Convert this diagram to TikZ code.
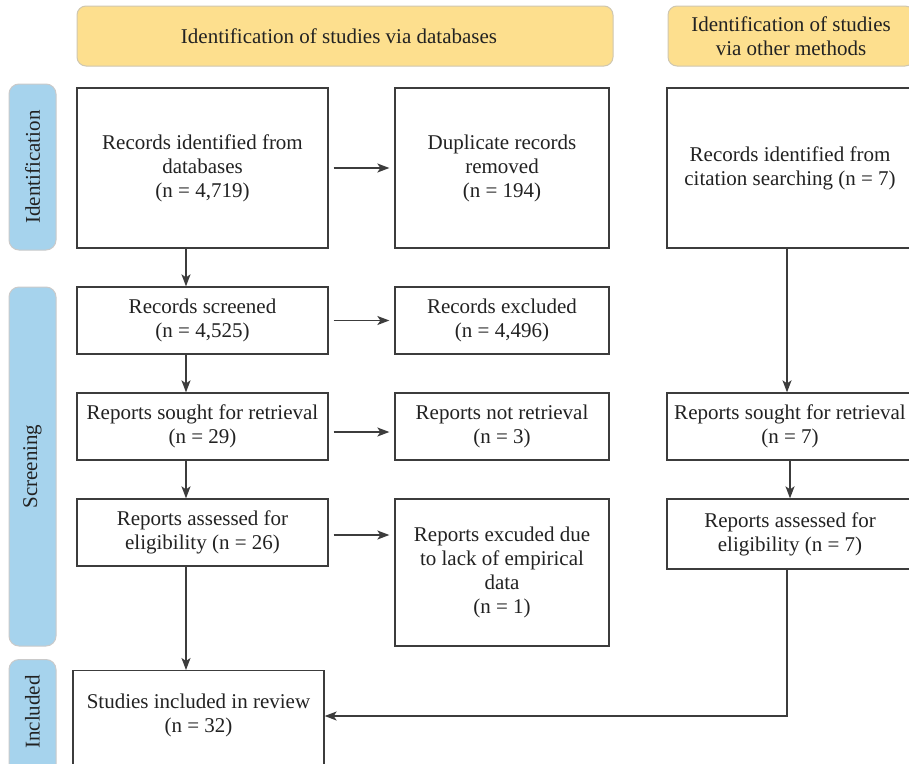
\documentclass[tikz,border=0pt]{standalone}
\usepackage{fontspec}
\setmainfont{Liberation Serif}
\usetikzlibrary{arrows.meta}
\definecolor{hdr}{HTML}{FDDF8E}
\definecolor{hdrb}{HTML}{CFC7B0}
\definecolor{side}{HTML}{A6D3ED}
\definecolor{sideb}{HTML}{CACACA}
\definecolor{boxb}{HTML}{3C3C3C}
\definecolor{txt}{HTML}{222222}
\begin{document}
\begin{tikzpicture}[x=1pt,y=-1pt,
  font=\fontsize{21}{24}\selectfont,
  box/.style={draw=boxb, line width=1.3pt, fill=white, align=center, inner sep=3pt, text=txt},
  hdrbox/.style={draw=hdrb, fill=hdr, rounded corners=9pt, line width=1pt, align=center, text=txt},
  sidebar/.style={draw=sideb, fill=side, rounded corners=10pt, line width=1pt, minimum width=47pt},
  sidelabel/.style={rotate=90, text=txt},
  arr/.style={-{Stealth[length=12pt,width=9pt,inset=3pt]}, line width=1.3pt, draw=boxb},
  harr/.style={arr, shorten <=5pt, shorten >=5pt}]
\useasboundingbox (0,0) rectangle (909,763);
\clip (0,0) rectangle (909,763);
\fill[white] (0,0) rectangle (909,763);

% headers
\node[hdrbox, minimum width=536pt, minimum height=60pt] (H1) at (345,36) {\hspace*{-12pt}Identification of studies via databases};
\node[hdrbox, minimum width=246pt, minimum height=60pt] (H2) at (791,36) {Identification of studies\\via other methods};

% side bars
\node[sidebar, minimum height=166pt] (S1) at (32.5,167) {};
\node[sidelabel] (S1t) at (S1) {Identification};
\node[sidebar, minimum height=359pt] (S2) at (32.5,466.5) {};
\node[sidelabel] (S2t) at (S2) {Screening};
\node[sidebar, minimum height=130pt, anchor=north] (S3) at (32.5,659) {};
\node[sidelabel] (S3t) at (32.5,712) {Included};

% boxes
\node[box, minimum width=251pt, minimum height=160pt] (A) at (202.5,168) {Records identified from\\databases\\(n = 4,719)};
\node[box, minimum width=214pt, minimum height=160pt] (B) at (502,168) {Duplicate records\\removed\\(n = 194)};
\node[box, minimum width=246pt, minimum height=160pt] (C) at (790,168) {Records identified from\\citation searching (n = 7)};

\node[box, minimum width=251pt, minimum height=67pt] (D) at (202.5,320.5) {Records screened\\(n = 4,525)};
\node[box, minimum width=214pt, minimum height=67pt] (E) at (502,320.5) {Records excluded\\(n = 4,496)};

\node[box, minimum width=251pt, minimum height=67pt] (F) at (202.5,426.5) {Reports sought for retrieval\\(n = 29)};
\node[box, minimum width=214pt, minimum height=67pt] (G) at (502,426.5) {Reports not retrieval\\(n = 3)};
\node[box, minimum width=246pt, minimum height=67pt] (H) at (790,426.5) {Reports sought for retrieval\\(n = 7)};

\node[box, minimum width=251pt, minimum height=67pt] (I) at (202.5,532.5) {Reports assessed for\\eligibility (n = 26)};
\node[box, minimum width=214pt, minimum height=147pt] (J) at (502,572.5) {Reports excuded due\\to lack of empirical\\data\\(n = 1)};
\node[box, minimum width=246pt, minimum height=70pt] (K) at (790,534) {Reports assessed for\\eligibility (n = 7)};

\node[box, minimum width=251pt, minimum height=120pt, anchor=north] (Lbox) at (198.5,670) {};
\node[align=center, text=txt] (L) at (198.5,715) {Studies included in review\\(n = 32)};

% arrow column
\coordinate (col) at (186,0);
\coordinate (rcol) at (787,0);

% horizontal arrows
\draw[harr] (A.east) -- (B.west);
\draw[harr] (D.east) -- (E.west);
\draw[harr] (F.east |- 0,432) -- (G.west |- 0,432);
\draw[harr] (I.east |- 0,535) -- (J.west |- 0,535);

% vertical arrows left
\draw[arr] (A.south -| col) -- (D.north -| col);
\draw[arr] (D.south -| col) -- (F.north -| col);
\draw[arr] (F.south -| col) -- (I.north -| col);
\draw[arr] (I.south -| col) -- (Lbox.north -| col);

% right column
\draw[arr] (C.south -| rcol) -- (H.north -| rcol);
\draw[arr] (H.south) -- (K.north);
\draw[arr] (K.south -| rcol) -- (rcol |- 0,716) -- (Lbox.east |- 0,716);
\end{tikzpicture}
\end{document}
